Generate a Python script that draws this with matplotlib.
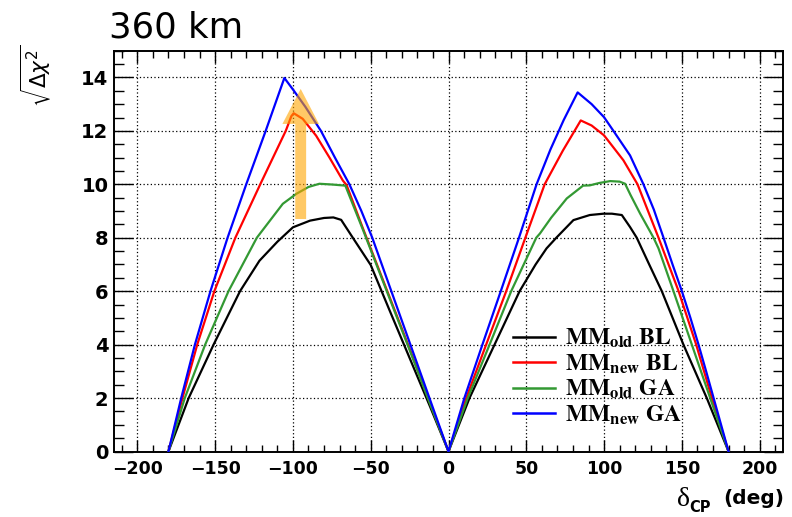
import matplotlib
matplotlib.use('Agg')
import matplotlib.pyplot as plt
from matplotlib.ticker import MultipleLocator

# ---------------- data ----------------
black_x = [-180, -167, -151, -134, -121.5, -110, -100, -89, -80, -74, -69, -61.5, -50, -38, -25, -12, 0,
           13.5, 29.6, 45.7, 56, 63, 69.3, 80.3, 90.8, 99.6, 105, 111.4, 116.7, 121, 129, 137.1, 151, 166, 180]
black_y = [0, 2, 4, 6, 7.14, 7.85, 8.39, 8.64, 8.74, 8.76, 8.67, 8.0, 6.98, 5.3, 3.5, 1.7, 0,
           2, 4, 6, 7.0, 7.6, 8.0, 8.66, 8.85, 8.9, 8.9, 8.85, 8.4, 8.0, 7.0, 6.0, 4.0, 2.0, 0]

red_x = [-180, -171, -161.5, -150.5, -137, -121, -104.6, -101, -99.5, -93.7, -85.1, -76.5, -67.9, -65.5,
         -55, -40, -25, -12, 0,
         11.4, 24.2, 37.1, 49.4, 61.8, 73.5, 85, 92, 100, 112.4, 121.5, 135, 147.9, 159.2, 169.3, 180]
red_y = [0, 2, 4, 6, 8, 10, 12, 12.55, 12.66, 12.45, 11.82, 11.0, 10.14, 9.97,
         8.35, 6.1, 3.85, 1.85, 0,
         2, 4, 6, 8, 10, 11.26, 12.39, 12.2, 11.83, 10.9, 10.0, 8.0, 6.0, 4.0, 2.0, 0]

green_x = [-180, -169.5, -156.4, -141.4, -123.2, -106.5, -97.9, -90, -83, -74.4, -66.3,
           -55, -40, -25, -12, 0,
           12.4, 26.4, 40.3, 56.4, 58.8, 66, 76, 86.5, 90.8, 97, 103.9, 110, 113.5, 117, 123.2, 131.8, 135,
           144.6, 156.4, 168.2, 180]
green_y = [0, 2, 4, 6, 8, 9.27, 9.64, 9.9, 10.02, 9.99, 9.95,
           8.3, 6.05, 3.8, 1.8, 0,
           2, 4, 6, 8, 8.16, 8.75, 9.47, 9.95, 9.96, 10.05, 10.12, 10.1, 10.02, 9.6, 8.9, 8.0, 7.6,
           6.0, 4.0, 2.0, 0]

blue_x = [-180, -171.8, -163, -153, -142, -130, -117.5, -105.5, -100, -92, -82, -73, -63.7, -56, -49,
          -36.75, -24.5, -12.25, 0,
          10.2, 21.8, 33.6, 45.3, 56.6, 65.5, 74, 83, 92, 100, 106, 116.7, 125.3, 132, 138.2, 144, 150, 155.5,
          160.7, 165.6, 170.4, 175.2, 180]
blue_y = [0, 2, 4, 6, 8, 10, 12, 13.98, 13.55, 12.9, 12.0, 11.0, 10.0, 9.0, 8.0,
          6.0, 4.0, 2.0, 0,
          2, 4, 6, 8, 10, 11.3, 12.4, 13.44, 13.0, 12.51, 12.0, 11.08, 10.0, 9.05, 8.0, 7.0, 6.0, 5.0,
          4.0, 3.0, 2.0, 1.0, 0]

labels = [r'$\mathbf{MM_{old}\ BL}$', r'$\mathbf{MM_{new}\ BL}$',
          r'$\mathbf{MM_{old}\ GA}$', r'$\mathbf{MM_{new}\ GA}$']
colors = ['black', '#ff0000', '#339933', '#0000ff']

arrow_x = -95
arrow_y0 = 8.7
arrow_y1 = 13.57

x_ticks = [-200, -150, -100, -50, 0, 50, 100, 150, 200]
y_ticks = [0, 2, 4, 6, 8, 10, 12, 14]

# ---------------- figure ----------------
W, H = 792, 517
fig = plt.figure(figsize=(W / 100, H / 100), dpi=100)
ax = fig.add_axes([114 / W, 1 - 451.5 / H, 669 / W, 400.8 / H])

series = [(black_x, black_y), (red_x, red_y), (green_x, green_y), (blue_x, blue_y)]
for (xs, ys), c, lab in zip(series, colors, labels):
    ax.plot(xs, ys, color=c, lw=1.6, label=lab, zorder=3, solid_joinstyle='round')

ax.arrow(arrow_x, arrow_y0, 0, arrow_y1 - arrow_y0, width=7, head_width=23.5, head_length=1.31,
         length_includes_head=True, facecolor='#ffa500', edgecolor='none', alpha=0.6, zorder=4)

ax.set_xlim(-215, 215)
ax.set_ylim(0, 15)
ax.set_xticks(x_ticks)
ax.set_yticks(y_ticks)
ax.xaxis.set_minor_locator(MultipleLocator(10))
ax.yaxis.set_minor_locator(MultipleLocator(0.5))
ax.grid(True, which='major', color='black', linestyle=(0, (1, 1.9)), linewidth=0.9, zorder=1)
ax.set_axisbelow(True)

ax.tick_params(axis='both', which='both', direction='in', top=True, right=True, width=1, color='black')
ax.tick_params(axis='x', which='major', length=8.6, pad=6)
ax.tick_params(axis='x', which='minor', length=5)
ax.tick_params(axis='y', which='major', length=13.5, pad=4)
ax.tick_params(axis='y', which='minor', length=7)
for sp in ax.spines.values():
    sp.set_linewidth(1.4)

for t in ax.get_xticklabels():
    t.set_fontfamily('DejaVu Sans')
    t.set_fontweight('bold')
    t.set_fontsize(12.5)
for t in ax.get_yticklabels():
    t.set_fontfamily('DejaVu Sans')
    t.set_fontweight('bold')
    t.set_fontsize(14)

leg = ax.legend(loc='upper left', bbox_to_anchor=((513 - 114) / 669, (451.5 - 326) / 400.8),
                frameon=False, fontsize=17, handlelength=1.78, handletextpad=0.42,
                labelspacing=0.05, borderaxespad=0, borderpad=0)
for t in leg.get_texts():
    t.set_math_fontfamily('stix')
for l in leg.get_lines():
    l.set_linewidth(1.8)

fig.text(109 / W, 1 - 37 / H, '360 km', family='DejaVu Sans', fontsize=25.5, ha='left', va='baseline')

# x axis title, built from its three parts
fig.text(677 / W, 1 - 506 / H, 'δ', family='Liberation Serif', fontsize=20, ha='left', va='baseline')
fig.text(689 / W, 1 - 512 / H, 'CP', family='DejaVu Sans', fontweight='bold', fontsize=10.5,
         ha='left', va='baseline')
fig.text(784 / W, 1 - 504 / H, '(deg)', family='DejaVu Sans', fontweight='bold', fontsize=14.5,
         ha='right', va='baseline')

fig.text(36 / W, 1 - 76 / H, r'$\sqrt{\Delta\chi^2}$', fontsize=15.5, rotation=90, ha='center', va='center',
         math_fontfamily='dejavusans')

fig.savefig('out.png', dpi=100, facecolor='white')
